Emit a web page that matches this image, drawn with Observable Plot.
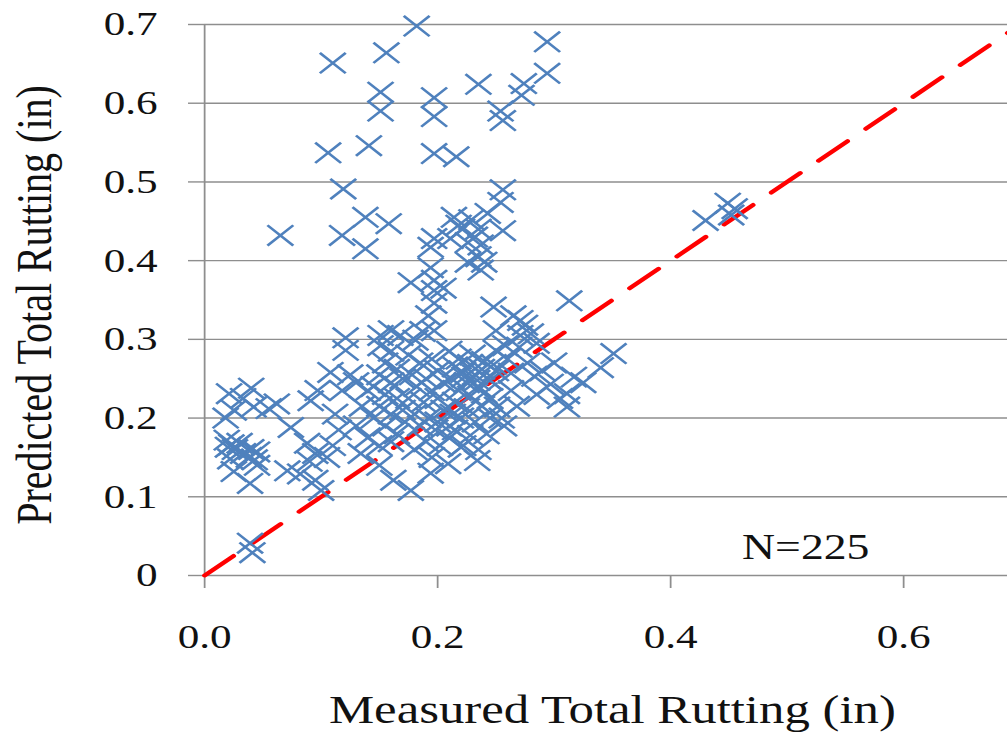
<!DOCTYPE html>
<html>
<head>
<meta charset="utf-8">
<script src="https://cdn.jsdelivr.net/npm/d3@7"></script>
<script src="https://cdn.jsdelivr.net/npm/@observablehq/plot@0.6"></script>
<style>
  html, body { margin: 0; padding: 0; background: #fff; }
  #chart svg { display: block; }
</style>
</head>
<body>
<div id="chart"></div>
<script>
// ---- Data ----
const measured = [
  0.021,0.040,0.025,0.042,0.055,0.062,0.033,0.019,0.020,0.023,0.026,0.030,0.033,0.038,0.043,0.040,0.045,0.022,0.025,0.039,0.045,0.039,0.041,0.018,
  0.065,0.074,0.082,0.071,0.088,0.095,0.095,0.100,0.091,0.097,0.108,0.090,0.105,0.110,0.115,0.121,0.121,0.112,0.118,0.125,
  0.182,0.156,0.110,0.294,0.294,0.274,0.272,0.235,0.254,0.256,0.151,0.151,0.197,0.197,0.141,0.106,0.197,0.216,0.119,0.256,0.254,
  0.138,0.158,0.118,0.138,0.197,0.214,0.229,0.221,0.235,0.243,0.256,0.211,0.226,0.237,0.194,0.235,0.226,0.237,0.194,0.218,0.232,0.240,
  0.197,0.197,0.197,0.192,0.197,0.177,0.205,
  0.313,0.248,0.271,0.280,0.250,0.271,0.258,0.250,0.351,0.340,0.317,0.311,0.311,0.297,0.277,0.283,0.263,0.263,0.251,0.242,0.257,0.234,
  0.220,0.209,0.194,0.177,0.162,0.134,0.150,0.285,0.290,0.270,0.300,0.325,0.305,0.268,0.255,0.245,0.260,0.285,0.275,0.265,
  0.151,0.160,0.168,0.151,0.160,0.155,0.165,0.150,0.160,0.170,0.145,0.155,0.165,0.150,0.160,0.170,0.145,0.155,0.165,0.140,0.150,0.160,0.130,0.135,0.140,0.130,
  0.181,0.175,0.185,0.178,0.190,0.182,0.195,0.175,0.188,0.200,0.180,0.192,0.205,0.185,0.198,0.210,0.190,0.202,0.180,0.195,0.210,0.200,0.205,0.195,0.210,
  0.215,0.222,0.228,0.232,0.238,0.243,0.225,0.235,0.218,0.228,0.240,0.215,0.225,0.238,0.220,0.232,0.245,0.215,0.228,0.222,0.235,0.245,0.250,0.218,0.230,0.240,0.248,0.212,0.223,0.234,0.213,0.200,0.172,0.187,
  0.430,0.449,0.455,0.452
];
const predicted = [
  0.231,0.238,0.210,0.214,0.212,0.218,0.225,0.172,0.163,0.166,0.160,0.168,0.155,0.150,0.147,0.160,0.157,0.148,0.132,0.117,0.140,0.041,0.029,0.200,
  0.432,0.188,0.129,0.133,0.168,0.155,0.121,0.108,0.222,0.235,0.258,0.145,0.150,0.165,0.185,0.302,0.286,0.205,0.235,0.255,
  0.698,0.664,0.651,0.678,0.638,0.625,0.610,0.624,0.590,0.578,0.614,0.590,0.607,0.583,0.546,0.537,0.536,0.532,0.491,0.490,0.474,
  0.455,0.447,0.432,0.415,0.428,0.455,0.452,0.440,0.440,0.460,0.438,0.428,0.423,0.420,0.417,0.405,0.398,0.388,0.391,0.445,0.430,0.398,
  0.375,0.362,0.346,0.330,0.311,0.372,0.365,
  0.349,0.341,0.324,0.307,0.311,0.305,0.292,0.286,0.282,0.264,0.252,0.231,0.214,0.243,0.270,0.253,0.257,0.235,0.214,0.180,0.190,0.146,
  0.163,0.142,0.130,0.108,0.121,0.155,0.140,0.230,0.260,0.290,0.270,0.245,0.225,0.215,0.200,0.225,0.275,0.295,0.318,0.330,
  0.305,0.311,0.305,0.292,0.285,0.270,0.262,0.255,0.245,0.250,0.240,0.230,0.225,0.215,0.205,0.210,0.200,0.190,0.180,0.175,0.165,0.170,0.190,0.215,0.235,0.245,
  0.299,0.280,0.270,0.255,0.250,0.240,0.235,0.225,0.220,0.225,0.205,0.200,0.210,0.190,0.185,0.190,0.170,0.165,0.160,0.150,0.175,0.260,0.245,0.275,0.285,
  0.265,0.258,0.268,0.255,0.262,0.250,0.245,0.240,0.235,0.228,0.232,0.220,0.212,0.215,0.200,0.195,0.200,0.185,0.178,0.165,0.160,0.248,0.260,0.275,0.280,0.272,0.268,0.250,0.252,0.248,0.205,0.195,0.195,0.310,
  0.451,0.473,0.466,0.458
];
const xTicks = [0, 0.2, 0.4, 0.6];
const xTickLabels = ["0.0", "0.2", "0.4", "0.6"];
const yTicks = [0, 0.1, 0.2, 0.3, 0.4, 0.5, 0.6, 0.7];
const yTickLabels = ["0", "0.1", "0.2", "0.3", "0.4", "0.5", "0.6", "0.7"];
const equalityLine = [0, 0.7];
const xTitle = ["Measured Total Rutting (in)"];
const yTitle = ["Predicted Total Rutting (in)"];
const note = ["N=225"];

// ---- Layout (the reference is horizontally stretched) ----
const STRETCH = 1.27;
const OUT_W = 1007, OUT_H = 732;
const W = OUT_W / STRETCH;            // drawing width before stretching
const axisLeft = 204 / STRETCH;
const pxPerUnit = 1165 / STRETCH;
const xEnd = axisLeft + 0.7 * pxPerUnit;

const points = measured.map((m, i) => ({m, p: predicted[i]}));
const grid = "#8e8e8e";
const font = "'Liberation Serif', 'Times New Roman', serif";

const chart = Plot.plot({
  width: W,
  height: OUT_H,
  marginLeft: axisLeft,
  marginRight: W - xEnd,
  marginTop: 24,
  marginBottom: OUT_H - 575,
  x: {domain: [0, 0.7]},
  y: {domain: [0, 0.7]},
  style: {fontFamily: font, background: "#fff", overflow: "visible"},
  marks: [
    Plot.gridY(yTicks, {stroke: grid, strokeOpacity: 1, strokeWidth: 1.4}),
    Plot.ruleX([0], {y1: 0, y2: 0.7, stroke: grid, strokeWidth: 1.4}),
    Plot.axisY(yTicks, {
      tickSize: 12.6, tickPadding: 24.4, stroke: grid, strokeWidth: 1.4,
      tickFormat: d => yTickLabels[yTicks.indexOf(d)],
      fontSize: 34, fill: "#111", label: null, fontFamily: font
    }),
    Plot.axisX(xTicks, {
      tickSize: 13, tickPadding: 35, stroke: grid, strokeWidth: 1.4,
      tickFormat: d => xTickLabels[xTicks.indexOf(d)],
      fontSize: 34, fill: "#111", label: null, fontFamily: font
    }),
    Plot.line(equalityLine.map(v => ({v})), {
      x: "v", y: "v", stroke: "#ff0000", strokeWidth: 4,
      strokeDasharray: "30,19", strokeLinecap: "round"
    }),
    Plot.dot(points, {
      x: "m", y: "p", symbol: "times", r: 9.3,
      stroke: "#4f81bd", strokeWidth: 2.3
    }),
    Plot.text(note, {x: 0.516, y: 0.035, text: d => d, fontSize: 36, fill: "#111", fontFamily: font}),
    Plot.text(xTitle, {frameAnchor: "bottom", textAnchor: "middle", dy: 147, lineAnchor: "bottom", text: d => d, fontSize: 40, fill: "#111", fontFamily: font}),
    Plot.text(yTitle, {frameAnchor: "left", textAnchor: "middle", rotate: -90, dx: -(axisLeft - 50 / STRETCH), dy: 5, lineAnchor: "bottom", text: d => d, fontSize: 40, fill: "#111", fontFamily: font})
  ]
});

chart.setAttribute("width", OUT_W);
chart.setAttribute("height", OUT_H);
chart.setAttribute("viewBox", `0 0 ${W} ${OUT_H}`);
chart.setAttribute("preserveAspectRatio", "none");
chart.style.width = OUT_W + "px";
chart.style.height = OUT_H + "px";
chart.style.maxWidth = "none";
document.getElementById("chart").appendChild(chart);
</script>
</body>
</html>
